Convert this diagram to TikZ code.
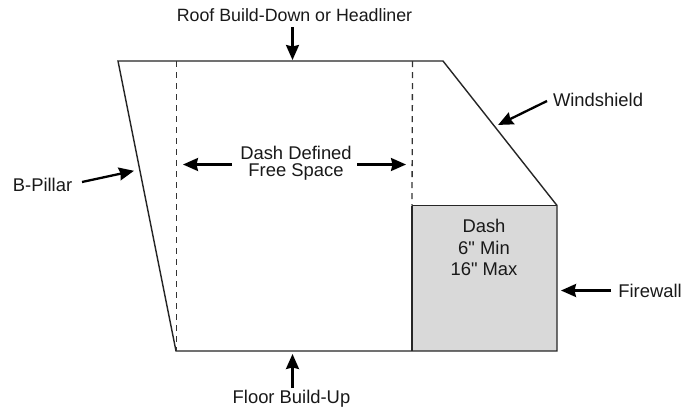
\documentclass[tikz,border=0pt]{standalone}
\usepackage{fontspec}
\newfontfamily\labfont{Liberation Sans}
\usetikzlibrary{arrows.meta}
\begin{document}
\begin{tikzpicture}[x=1pt,y=-1pt,
  lab/.style={font=\labfont\fontsize{18.4}{19}\selectfont,align=center,inner sep=0pt,text=black!90},
  arr/.style={line width=2.3pt,-{Stealth[length=15pt,width=13pt,inset=1.5pt]},shorten >=-1pt},
  shell/.style={line width=1.4pt,draw=black!85},
  dashline/.style={line width=1.3pt,dash pattern=on 6pt off 5pt,draw=black!80}]
\useasboundingbox (0,0) rectangle (685,410);
\fill[white] (0,0) rectangle (685,410);
\coordinate (tl) at (118,61); \coordinate (tr) at (443,61);
\coordinate (ws) at (557,205.5); \coordinate (br) at (557,351);
\coordinate (bl) at (176,351); \coordinate (dt) at (412,205.5); \coordinate (db) at (412,351);
\fill[black!15] (dt) rectangle (br);
\draw[shell,line join=miter] (tl)--(tr)--(ws)--(br)--(bl)--cycle;
\draw[shell] (dt)--(ws);
\draw[shell,line width=1.7pt] (dt)--(db);
\coordinate (d1) at (176.5,61); \coordinate (d2) at (176.5,351);
\coordinate (d3) at (412.5,61);
\draw[dashline] (d1)--(d2);
\draw[dashline] (d3)--(dt);
\node[lab,font=\labfont\fontsize{17.8}{19}\selectfont] (roof) at (294.5,15) {Roof Build-Down or Headliner};
\coordinate (roofs) at (292.5,27); \coordinate (roofa) at (292.5,59);
\draw[arr] (roofs)--(roofa);
\node[lab] (floor) at (291.5,398.5) {Floor Build-Up};
\coordinate (floors) at (292.5,388); \coordinate (floora) at (292.5,355);
\draw[arr] (floors)--(floora);
\node[lab] (wind) at (598,99.5) {Windshield};
\coordinate (winds) at (547,101); \coordinate (winda) at (499,124.5);
\draw[arr] (winds)--(winda);
\node[lab] (bp) at (42.5,184.5) {B-Pillar};
\coordinate (bps) at (82,182); \coordinate (bpa) at (133,171);
\draw[arr] (bps)--(bpa);
\node[lab] (fw) at (650,290.5) {Firewall};
\coordinate (fws) at (611,290.5); \coordinate (fwa) at (562,290.5);
\draw[arr] (fws)--(fwa);
\node[lab] (free1) at (296,152.5) {Dash Defined};
\node[lab] (free2) at (296,171.5) {Free Space};
\coordinate (fls) at (232,164.5); \coordinate (fla) at (184,164.5);
\coordinate (frs) at (357,164.5); \coordinate (fra) at (405,164.5);
\draw[arr] (fls)--(fla);
\draw[arr] (frs)--(fra);
\node[lab] (dash1) at (484,225.5) {Dash};
\node[lab] (dash2) at (484,247.5) {6" Min};
\node[lab] (dash3) at (484,269) {16" Max};
\end{tikzpicture}
\end{document}
